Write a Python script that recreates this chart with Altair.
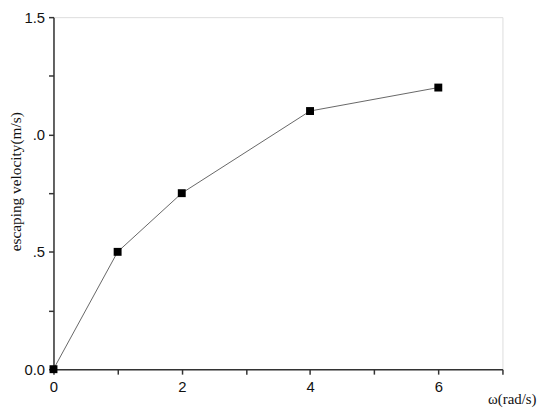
import altair as alt
import pandas as pd

omega = [0, 1, 2, 4, 6]
velocity = [0.0, 0.5, 0.75, 1.1, 1.2]

x_ticks = [0, 1, 2, 3, 4, 5, 6, 7]
x_labels = ["0", "", "2", "", "4", "", "6", ""]
y_ticks = [0, 0.25, 0.5, 0.75, 1.0, 1.25, 1.5]
y_labels = ["0.0", "", ".5", "", ".0", "", "1.5"]

df = pd.DataFrame({"omega": omega, "v": velocity})

def label_expr(ticks, labels):
    parts = []
    for t, l in zip(ticks, labels):
        parts.append(f"datum.value == {t} ? '{l}' : ")
    return "".join(parts) + "''"

x = alt.X(
    "omega:Q",
    scale=alt.Scale(domain=[0, 7], nice=False, zero=False),
    axis=alt.Axis(
        values=x_ticks,
        labelExpr=label_expr(x_ticks, x_labels),
        title="ω(rad/s)",
        titleFont="Liberation Serif",
        titleFontSize=15,
        titleFontWeight="normal",
        titleColor="#111",
        titleAnchor="end",
        titleAlign="right",
        titleBaseline="alphabetic",
        titleX=488,
        titleY=35,
        labelFont="Liberation Sans",
        labelFontSize=15,
        labelColor="#111",
        labelPadding=6,
        grid=False,
        domainColor="#333",
        domainWidth=1.5,
        tickColor="#333",
        tickWidth=1.5,
        tickSize=5,
        labelFlush=False,
    ),
)
y = alt.Y(
    "v:Q",
    scale=alt.Scale(domain=[0, 1.5], nice=False),
    axis=alt.Axis(
        values=y_ticks,
        labelExpr=label_expr(y_ticks, y_labels),
        title="escaping velocity(m/s)",
        titleFont="Liberation Serif",
        titleFontSize=15.5,
        titleFontWeight="normal",
        titleColor="#111",
        titleAngle=270,
        titleAlign="center",
        titleBaseline="alphabetic",
        titleX=-33,
        titleY=166,
        labelFont="Liberation Sans",
        labelFontSize=15,
        labelColor="#111",
        labelPadding=4,
        grid=False,
        domainColor="#333",
        domainWidth=1.5,
        tickColor="#333",
        tickWidth=1.5,
        tickSize=5,
        labelFlush=False,
    ),
)

line = alt.Chart(df).mark_line(color="#666", strokeWidth=1).encode(x=x, y=y)
pts = alt.Chart(df).mark_square(color="black", size=64, opacity=1).encode(x=x, y=y)

chart = (
    alt.layer(line, pts)
    .properties(
        width=454,
        height=356,
        autosize=alt.AutoSizeParams(type="none"),
        padding={"left": 46, "top": 7, "right": 40, "bottom": 38},
    )
    .configure_view(stroke=None)
    .configure(background="white")
)

chart.save("out.html", embed_options={"renderer": "svg", "actions": False})
